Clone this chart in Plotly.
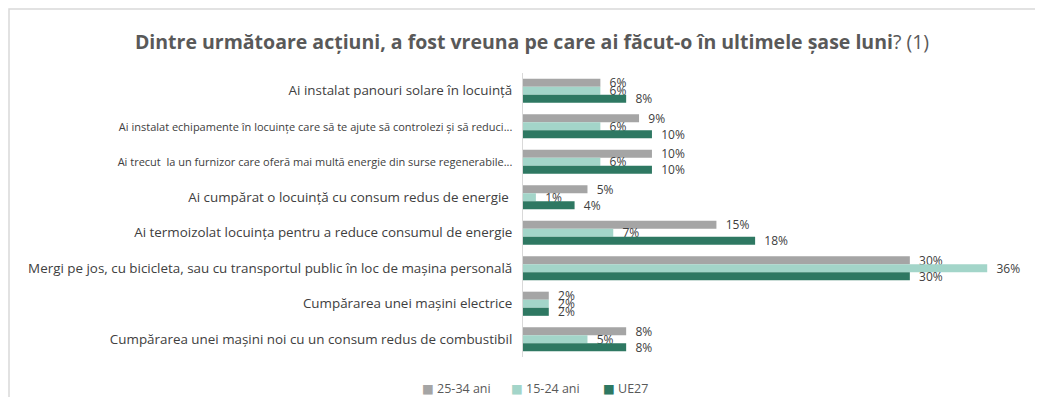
import plotly.graph_objects as go

categories = [
    "Ai instalat panouri solare în locuință",
    "Ai instalat echipamente în locuințe care să te ajute să controlezi și să reduci...",
    "Ai trecut  la un furnizor care oferă mai multă energie din surse regenerabile...",
    "Ai cumpărat o locuință cu consum redus de energie ",
    "Ai termoizolat locuința pentru a reduce consumul de energie",
    "Mergi pe jos, cu bicicleta, sau cu transportul public în loc de mașina personală",
    "Cumpărarea unei mașini electrice",
    "Cumpărarea unei mașini noi cu un consum redus de combustibil",
]
ani_25_34 = [6, 9, 10, 5, 15, 30, 2, 8]
ani_15_24 = [6, 6, 6, 1, 7, 36, 2, 5]
ue27 = [8, 10, 10, 4, 18, 30, 2, 8]

series_names = ["25-34 ani", "15-24 ani", "UE27"]
series_values = [ani_25_34, ani_15_24, ue27]
series_colors = ["#A5A5A5", "#A3D5C9", "#2E7862"]

FONT = "Open Sans"
fig = go.Figure()
for name, vals, color in zip(series_names, series_values, series_colors):
    fig.add_trace(go.Bar(
        y=categories, x=vals, name=name, orientation="h",
        marker=dict(color=color, line=dict(width=0)),
        texttemplate="\u00a0\u00a0%{x}%", textposition="outside",
        constraintext="none",
        textfont=dict(family=FONT, size=12, color="#404040"),
        cliponaxis=False, showlegend=False,
    ))

# truncated labels are squeezed in the original
ticktext = [
    f"<span style='font-size:11px'>{c}</span>" if c.endswith("...") else c
    for c in categories
]

# page body adds an 8px margin, so figure pixels = reference pixels - 8
W, H = 1027, 389
L, R, T, B = 515, 22, 65, 40
pw, ph = W - L - R, H - T - B

def px_x(p):
    return (p - L) / pw

def px_y(p):
    return (H - B - p) / ph

legend_x = [412, 501, 593]
annotations = []
for name, color, lx in zip(series_names, series_colors, legend_x):
    annotations.append(dict(
        text=f"<span style='color:{color}'>■</span>\u00a0{name}",
        xref="paper", yref="paper", x=px_x(lx), y=px_y(380),
        xanchor="left", yanchor="middle", showarrow=False,
        font=dict(family=FONT + ", DejaVu Sans", size=12.5, color="#595959"),
    ))

fig.update_layout(
    width=W, height=H,
    margin=dict(l=L, r=R, t=T, b=B, autoexpand=False),
    paper_bgcolor="white", plot_bgcolor="white",
    barmode="group", bargap=0.32, bargroupgap=0,
    title=dict(
        text="<b>Dintre următoare acțiuni, a fost vreuna pe care ai făcut-o în ultimele șase luni</b>? (1)",
        x=524 / W, xref="container", y=1 - 34 / H, yref="container",
        yanchor="middle", xanchor="center",
        font=dict(family=FONT, size=19.5, color="#595959"),
    ),
    xaxis=dict(range=[0, 38], visible=False, showgrid=False, zeroline=False),
    yaxis=dict(autorange="reversed", showgrid=False, zeroline=False,
               showline=True, linecolor="#D9D9D9", linewidth=1, ticks="",
               ticklabelstandoff=7, tickmode="array",
               tickvals=categories, ticktext=ticktext,
               tickfont=dict(family=FONT, size=13.4, color="#404040")),
    showlegend=False,
    annotations=annotations,
    shapes=[dict(type="rect", xref="paper", yref="paper",
                 x0=px_x(1), x1=px_x(1100), y0=px_y(450), y1=px_y(1),
                 line=dict(color="#D9D9D9", width=1.5), layer="below")],
)
fig.write_html("out.html")
